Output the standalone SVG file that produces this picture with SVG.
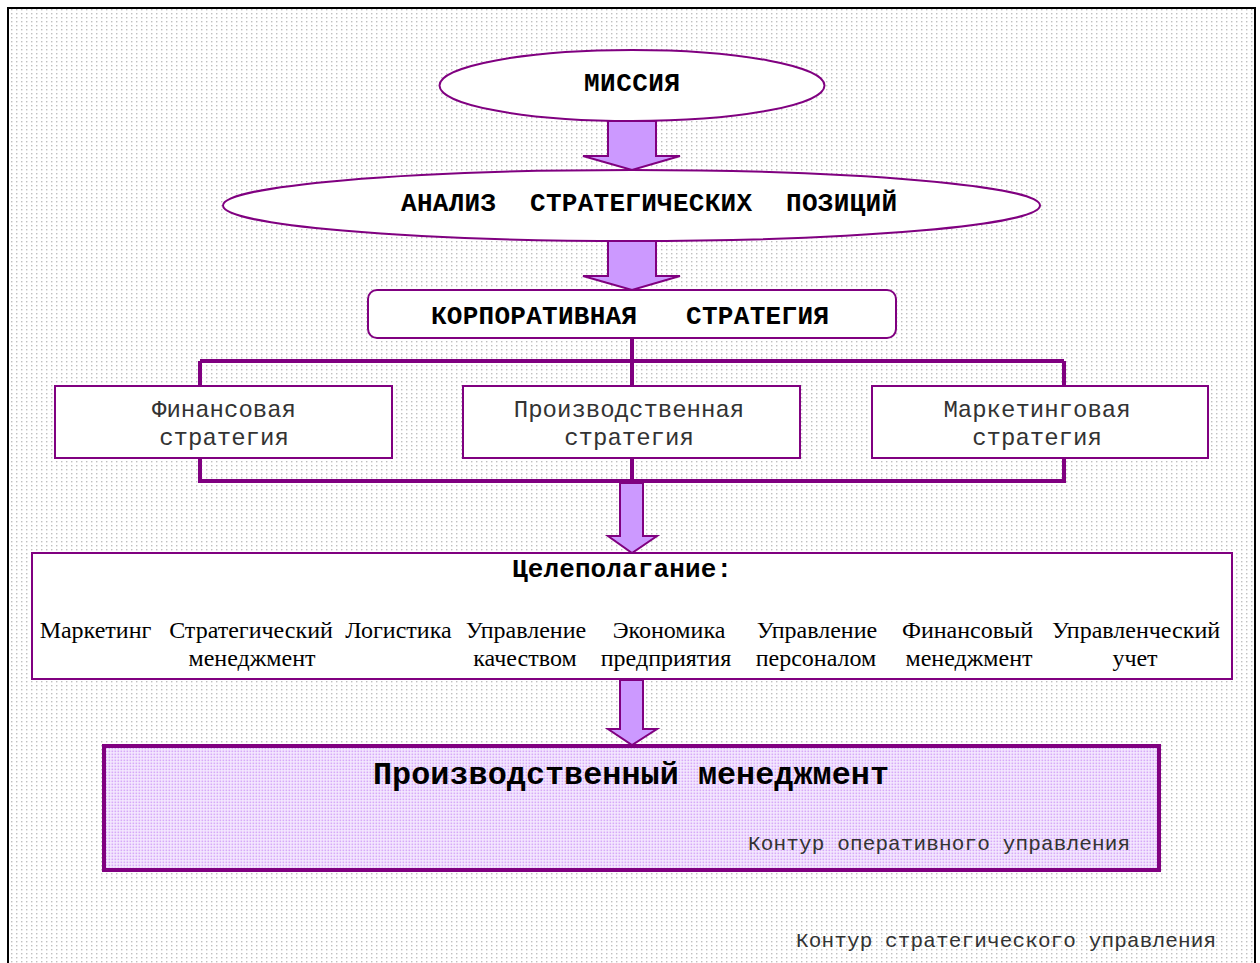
<svg xmlns="http://www.w3.org/2000/svg" width="1260" height="963" viewBox="0 0 1260 963">
  <defs>
    <pattern id="bgDots" width="5" height="4" patternUnits="userSpaceOnUse">
      <rect width="5" height="4" fill="#ffffff"/>
      <rect x="1" y="1" width="1.4" height="1.4" fill="#c0c0c0"/>
    </pattern>
    <pattern id="lilacDots" width="3" height="3" patternUnits="userSpaceOnUse">
      <rect width="3" height="3" fill="#f6ebff"/>
      <rect x="0.5" y="0.5" width="1.7" height="1.7" fill="#d6aaf8"/>
    </pattern>
    <style>
      .node { fill: #ffffff; stroke: #800080; stroke-width: 2; }
      .link { fill: none; stroke: #800080; stroke-width: 4; }
      .arrow { fill: #cc99ff; stroke: #800080; stroke-width: 2; stroke-linejoin: miter; }
      .head { font-family: "Liberation Mono", "Courier New", monospace; font-weight: bold; font-size: 26px; fill: #000000; }
      .title { font-size: 31.8px; }
      .mono { font-family: "Liberation Mono", "Courier New", monospace; font-size: 24px; fill: #333333; }
      .note { font-family: "Liberation Mono", "Courier New", monospace; font-size: 21px; fill: #333333; }
      .serif { font-family: "Liberation Serif", "Times New Roman", serif; font-size: 24px; fill: #000000; }
    </style>
  </defs>

  <!-- strategic control frame -->
  <g id="frame">
    <rect x="0" y="0" width="1260" height="963" fill="#ffffff"/>
    <rect x="8" y="8" width="1247" height="970" fill="url(#bgDots)" stroke="#000000" stroke-width="2"/>
    <text class="note" x="796" y="947" textLength="420" lengthAdjust="spacing">Контур стратегического управления</text>
  </g>

  <!-- connectors -->
  <g id="connectors">
    <path class="link" d="M632 338 V481 M200 361 H1064 M200 361 V481 H1064 V361"/>
    <path class="arrow" d="M608 121 H656 V156 H680 L632 170 L583 156 H608 Z"/>
    <path class="arrow" d="M608 241 H656 V276 H680 L632 290 L583 276 H608 Z"/>
    <path class="arrow" d="M620 483 H643 V536 H657 L632 553 L608 536 H620 Z"/>
    <path class="arrow" d="M620 680 H643 V729 H657 L632 745 L608 729 H620 Z"/>
  </g>

  <g id="mission">
    <ellipse class="node" cx="632" cy="85.5" rx="192.5" ry="35.5"/>
    <text class="head" x="584" y="91" textLength="96" lengthAdjust="spacing">МИССИЯ</text>
  </g>

  <g id="analysis">
    <ellipse class="node" cx="631.5" cy="205.5" rx="408.5" ry="35.5"/>
    <text class="head" x="401" y="211" textLength="95" lengthAdjust="spacing">АНАЛИЗ</text>
    <text class="head" x="530" y="211" textLength="222" lengthAdjust="spacing">СТРАТЕГИЧЕСКИХ</text>
    <text class="head" x="786" y="211" textLength="111" lengthAdjust="spacing">ПОЗИЦИЙ</text>
  </g>

  <g id="corporate">
    <rect class="node" x="368" y="290" width="528" height="48" rx="9"/>
    <text class="head" x="431" y="324" textLength="206" lengthAdjust="spacing">КОРПОРАТИВНАЯ</text>
    <text class="head" x="686" y="324" textLength="143" lengthAdjust="spacing">СТРАТЕГИЯ</text>
  </g>

  <g id="financial">
    <rect class="node" x="55" y="386" width="337" height="72"/>
    <text class="mono" x="224" y="417" text-anchor="middle">Финансовая</text>
    <text class="mono" x="224" y="445" text-anchor="middle">стратегия</text>
  </g>

  <g id="production">
    <rect class="node" x="463" y="386" width="337" height="72"/>
    <text class="mono" x="629" y="417" text-anchor="middle">Производственная</text>
    <text class="mono" x="629" y="445" text-anchor="middle">стратегия</text>
  </g>

  <g id="marketing">
    <rect class="node" x="872" y="386" width="336" height="72"/>
    <text class="mono" x="1037" y="417" text-anchor="middle">Маркетинговая</text>
    <text class="mono" x="1037" y="445" text-anchor="middle">стратегия</text>
  </g>

  <g id="goals">
    <rect class="node" x="32" y="553" width="1200" height="126"/>
    <text class="head" x="512" y="577" textLength="220" lengthAdjust="spacing">Целеполагание:</text>
    <g class="serif" text-anchor="middle">
      <text x="95.5" y="638">Маркетинг</text>
      <text x="251" y="638">Стратегический</text>
      <text x="252" y="666">менеджмент</text>
      <text x="398.5" y="638">Логистика</text>
      <text x="526" y="638">Управление</text>
      <text x="525" y="666">качеством</text>
      <text x="669" y="638">Экономика</text>
      <text x="666" y="666">предприятия</text>
      <text x="817" y="638">Управление</text>
      <text x="816" y="666">персоналом</text>
      <text x="967.5" y="638">Финансовый</text>
      <text x="969" y="666">менеджмент</text>
      <text x="1136" y="638">Управленческий</text>
      <text x="1135" y="666">учет</text>
    </g>
  </g>

  <g id="production-management">
    <rect x="104" y="746" width="1055" height="124" fill="url(#lilacDots)" stroke="#800080" stroke-width="4"/>
    <text class="head title" x="373" y="784" textLength="516" lengthAdjust="spacing">Производственный менеджмент</text>
    <text class="note" x="748" y="850" textLength="382" lengthAdjust="spacing">Контур оперативного управления</text>
  </g>
</svg>
